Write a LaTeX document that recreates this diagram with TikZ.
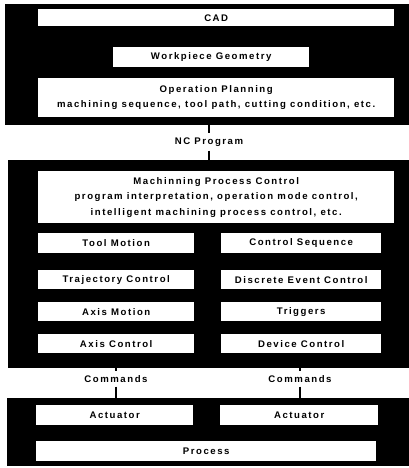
\documentclass[tikz,border=0pt]{standalone}
\usepackage{fontspec}
\setmainfont{Liberation Sans}[LetterSpace=16]
\begin{document}
\begin{tikzpicture}[x=1pt,y=-1pt,
  blk/.style={fill=black, inner sep=0pt, anchor=north west},
  wbox/.style={fill=white, inner sep=0pt, anchor=north west, align=center,
    font=\bfseries\fontsize{9.6}{15.5}\selectfont},
  lbl/.style={inner sep=4pt, font=\bfseries\fontsize{9.6}{10}\selectfont},
  wire/.style={line width=1.3pt}]
\useasboundingbox[fill=white] (0,0) rectangle (409,468);

% planning level
\node[blk, minimum width=404, minimum height=121] (top) at (5,4) {};
\node[wbox, minimum width=356, minimum height=17] (cad) at (38,9) {CAD};
\node[wbox, minimum width=196, minimum height=20] (geom) at (113,47) {Workpiece Geometry};
\node[wbox, minimum width=356, minimum height=39] (plan) at (38,78)
  {Operation Planning\\machining sequence, tool path, cutting condition, etc.};

\node[lbl] (nc) at (209,142) {NC Program};

% control level
\node[blk, minimum width=401, minimum height=208] (ctrl) at (8,160) {};
\node[wbox, minimum width=356, minimum height=52] (mpc) at (38,171)
  {Machinning Process Control\\program interpretation, operation mode control,\\intelligent machining process control, etc.};
\node[wbox, minimum width=156, minimum height=20] (tool) at (38,233) {Tool Motion};
\node[wbox, minimum width=160, minimum height=20] (seq) at (221,233) {Control Sequence};
\node[wbox, minimum width=156, minimum height=19] (traj) at (38,270) {Trajectory Control};
\node[wbox, minimum width=160, minimum height=19] (dec) at (221,270) {Discrete Event Control};
\node[wbox, minimum width=156, minimum height=19] (axm) at (38,302) {Axis Motion};
\node[wbox, minimum width=160, minimum height=19] (trig) at (221,302) {Triggers};
\node[wbox, minimum width=156, minimum height=19] (axc) at (38,334) {Axis Control};
\node[wbox, minimum width=160, minimum height=19] (dev) at (221,334) {Device Control};

\node[lbl] (cmdl) at (116,379) {Commands};
\node[lbl] (cmdr) at (300,379) {Commands};

% machine level
\node[blk, minimum width=402, minimum height=68] (mach) at (7,398) {};
\node[wbox, minimum width=157, minimum height=20] (actl) at (36,405) {Actuator};
\node[wbox, minimum width=158, minimum height=20] (actr) at (220,405) {Actuator};
\node[wbox, minimum width=340, minimum height=20] (proc) at (36,441) {Process};

% connectors
\draw[wire] (top.south -| nc.north) -- (nc.north);
\draw[wire] (nc.south) -- (nc.south |- ctrl.north);
\draw[wire] (ctrl.south -| cmdl.north) -- (cmdl.north);
\draw[wire] (cmdl.south) -- (cmdl.south |- mach.north);
\draw[wire] (ctrl.south -| cmdr.north) -- (cmdr.north);
\draw[wire] (cmdr.south) -- (cmdr.south |- mach.north);
\end{tikzpicture}
\end{document}
